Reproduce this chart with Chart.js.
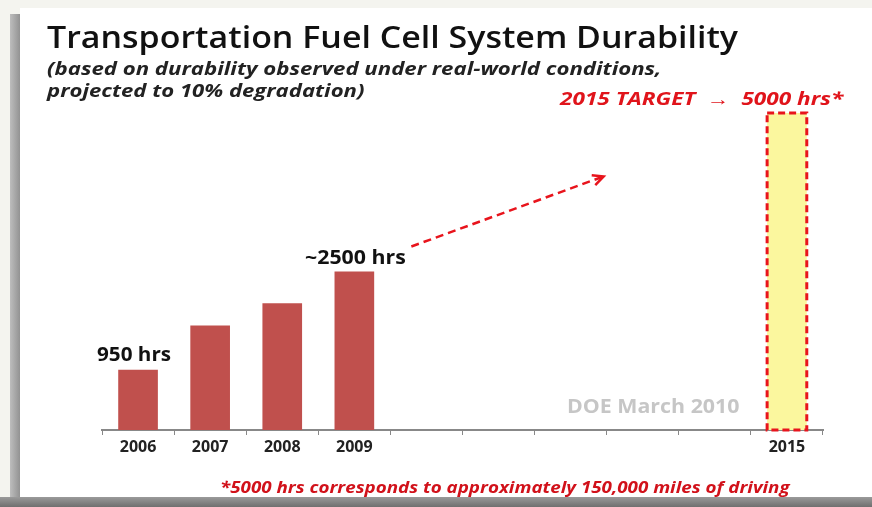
<!DOCTYPE html>
<html>
<head>
<meta charset="utf-8">
<script src="https://cdn.jsdelivr.net/npm/chart.js@4.4.1/dist/chart.umd.min.js"></script>
<style>
html,body{margin:0;padding:0;background:#f4f4ef;}
#wrap{position:relative;width:872px;height:507px;overflow:hidden;}
#shadowL{position:absolute;left:10px;top:14px;width:12px;height:484px;background:linear-gradient(to right,#bdbdbd,#8a8a8a);}
#panel{position:absolute;left:20px;top:8px;width:852px;height:490px;background:#fff;}
#shadowB{position:absolute;left:0;top:497px;width:872px;height:10px;background:linear-gradient(to bottom,#9a9a9a,#6f6f6f);}
canvas{position:absolute;left:0;top:0;}
.t{position:absolute;white-space:nowrap;transform-origin:0 0;font-family:"Open Sans",sans-serif;}
#title{left:47px;top:15px;font-size:31px;color:#111;font-weight:600;}
#sub1{left:47px;top:56px;font-size:18px;font-style:italic;font-weight:bold;color:#222;}
#sub2{left:47px;top:78px;font-size:18px;font-style:italic;font-weight:bold;color:#222;}
#target{left:560px;top:87px;font-size:17px;font-style:italic;font-weight:bold;color:#e0141b;}
#l950{left:97px;top:341px;font-size:19px;font-weight:bold;color:#111;}
#l2500{left:305px;top:244px;font-size:19px;font-weight:bold;color:#111;}
#doe{left:567px;top:393px;font-size:19px;font-weight:bold;color:#c6c6c6;}
#foot{left:220px;top:476px;font-size:16px;font-style:italic;font-weight:bold;color:#d1111a;}
</style>
</head>
<body>
<div id="wrap">
<div id="shadowL"></div>
<div id="panel"></div>
<div id="shadowB"></div>
<canvas id="chart" width="872" height="507"></canvas>
<div class="t" id="title" data-w="691">Transportation Fuel Cell System Durability</div>
<div class="t" id="sub1" data-w="615">(based on durability observed under real-world conditions,</div>
<div class="t" id="sub2" data-w="318">projected to 10% degradation)</div>
<div class="t" id="target" data-w="283">2015 TARGET &nbsp;&#8594;&nbsp; 5000 hrs*</div>
<div class="t" id="l950" data-w="74">950 hrs</div>
<div class="t" id="l2500" data-w="101">~2500 hrs</div>
<div class="t" id="doe" data-w="172">DOE March 2010</div>
<div class="t" id="foot" data-w="570">*5000 hrs corresponds to approximately 150,000 miles of driving</div>
</div>
<script>

const years=["2006","2007","2008","2009","2010","2011","2012","2013","2014","2015"]
const tickLabels=["2006","2007","2008","2009","","","","","","2015"]
const hours=[950,1650,2000,2500,null,null,null,null,null,5000]

const barColors=hours.map((h,i)=>i===9?"#fbf79e":"#c0504d")

// squeeze / stretch each text to the width it has in the slide
document.querySelectorAll(".t").forEach(el=>{
const w=Number(el.dataset.w)
el.style.transform="scaleX("+(w/el.offsetWidth)+")"
})

// dashed red outline on the target bar + dashed trend arrow
const extras={
id:"extras",
afterDatasetsDraw(chart){

const ctx=chart.ctx
const bars=chart.getDatasetMeta(0).data
const target=bars[9]
const last=bars[3]

ctx.save()
ctx.strokeStyle="#e8141c"
ctx.lineWidth=3
ctx.setLineDash([7,4])
ctx.strokeRect(target.x-target.width/2,target.y,target.width,target.base-target.y)

// arrow from 2009 label towards the target
const x1=last.x+57
const y1=last.y-25
const x2=chart.scales.x.getPixelForValue(6)+33
const y2=chart.scales.y.getPixelForValue(4000)
ctx.lineWidth=2.5
ctx.setLineDash([8,5])
ctx.beginPath()
ctx.moveTo(x1,y1)
ctx.lineTo(x2,y2)
ctx.stroke()
ctx.setLineDash([])
const a=Math.atan2(y2-y1,x2-x1)
ctx.beginPath()
ctx.moveTo(x2-12*Math.cos(a-0.45),y2-12*Math.sin(a-0.45))
ctx.lineTo(x2,y2)
ctx.lineTo(x2-12*Math.cos(a+0.45),y2-12*Math.sin(a+0.45))
ctx.stroke()
ctx.restore()

}
}

new Chart(document.getElementById("chart"),{
type:"bar",
data:{
labels:years,
datasets:[{
data:hours,
backgroundColor:barColors,
borderWidth:0,
barPercentage:0.55,
categoryPercentage:1
}]
},
options:{
responsive:false,
animation:false,
layout:{padding:{left:102,right:49,top:113,bottom:0}},
plugins:{legend:{display:false},tooltip:{enabled:false}},
scales:{
y:{display:false,min:0,max:5000},
x:{
afterFit:s=>{s.height=77},
grid:{drawOnChartArea:false,drawTicks:true,tickLength:5,color:"#888",offset:true},
border:{color:"#888",width:2},
ticks:{
callback:(v,i)=>tickLabels[i],
color:"#222",
font:{family:"Open Sans",weight:"bold",size:16},
padding:3,
maxRotation:0,
autoSkip:false
}
}
}
},
plugins:[extras]
})

</script>
</body>
</html>
